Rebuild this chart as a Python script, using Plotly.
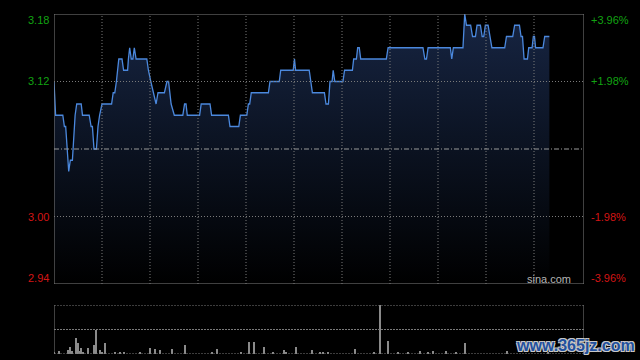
import plotly.graph_objects as go

# ---- Price data (minutes since 09:30, HK session, 330 trading minutes) ----
price_t = [0, 1, 5.5, 6.5, 7.3, 9.2, 10.2, 11.5, 13.2, 14.2, 17, 17.8, 22, 23.2, 24, 25, 26.5,
           27.5, 28.5, 30, 36, 37, 38, 39, 40.5, 42.5, 43.5, 46, 46.5, 47.3, 48.3, 49.3, 50.2,
           51.3, 58, 59, 60.5, 62, 63.8, 65, 69, 70.6, 71.6, 73.2, 75.2, 80.5, 81.6, 82.5,
           83.3, 91, 92, 97.5, 98.5, 109, 110, 115.5, 116.5, 120.5, 121.5, 122.3, 123.3, 134,
           135, 140.8, 141.7, 149.5, 150.3, 151, 159.5, 161.5, 169, 170, 171.5, 172.5, 173.8,
           174.5, 175.5, 180.6, 181.6, 186.5, 187.3, 189, 189.8, 190.8, 191.7, 207.7, 208.8,
           230.6, 231.8, 232.8, 233.8, 247.7, 248.6, 249.6, 255.6, 256.7, 257.8, 260.4, 261.6,
           263.4, 264.4, 266.5, 267.6, 268.6, 269.6, 271.3, 272.3, 273.7, 281.7, 282.8, 286.7,
           287.9, 290.9, 291.9, 292.8, 293.8, 295.9, 296.7, 298.8, 299.6, 300.3, 301, 305.6,
           306.7, 309.6]
price = [3.12, 3.09, 3.09, 3.08, 3.08, 3.04, 3.05, 3.05, 3.09, 3.10, 3.10, 3.09, 3.09, 3.08,
         3.08, 3.06, 3.06, 3.08, 3.09, 3.10, 3.10, 3.11, 3.11, 3.12, 3.14, 3.14, 3.13, 3.13,
         3.14, 3.15, 3.14, 3.14, 3.15, 3.14, 3.14, 3.13, 3.12, 3.11, 3.10, 3.11, 3.11, 3.12,
         3.12, 3.10, 3.09, 3.09, 3.10, 3.10, 3.09, 3.09, 3.10, 3.10, 3.09, 3.09, 3.08, 3.08,
         3.09, 3.09, 3.10, 3.10, 3.11, 3.11, 3.12, 3.12, 3.13, 3.13, 3.14, 3.13, 3.13, 3.11,
         3.11, 3.10, 3.10, 3.12, 3.12, 3.13, 3.12, 3.12, 3.13, 3.13, 3.14, 3.14, 3.15, 3.15,
         3.14, 3.14, 3.15, 3.15, 3.14, 3.14, 3.15, 3.15, 3.14, 3.15, 3.15, 3.18, 3.17, 3.17,
         3.16, 3.16, 3.17, 3.17, 3.16, 3.16, 3.17, 3.17, 3.16, 3.15, 3.15, 3.16, 3.16, 3.17,
         3.17, 3.16, 3.16, 3.14, 3.14, 3.15, 3.15, 3.16, 3.16, 3.15, 3.15, 3.16, 3.16]

# ---- Volume data (thousand shares) ----
vol_t = [0, 3, 9, 10, 11, 14, 15, 16, 17, 18, 21, 25, 26, 29, 30, 32, 38, 41, 44, 54, 60, 63,
         66, 74, 82, 99, 102, 117, 122, 125, 131, 137, 144, 145, 151, 161, 166, 168, 171, 188,
         200, 204, 209, 215, 221, 229, 234, 237, 245, 251, 257, 283, 309]
vol = [6, 14, 18, 30, 12, 66, 44, 14, 26, 8, 26, 38, 100, 18, 8, 44, 10, 10, 10, 10, 26, 22,
       18, 22, 38, 8, 22, 8, 50, 50, 30, 8, 18, 10, 30, 18, 10, 8, 8, 22, 8, 200, 54, 8, 8,
       14, 10, 14, 14, 8, 46, 14, 8]

prev_close = 3.06
y_ticks_left = [3.18, 3.12, 3.00, 2.94]
y_tick_text_left = ["3.18", "3.12", "3.00", "2.94"]
y_tick_text_right = ["+3.96%", "+1.98%", "-1.98%", "-3.96%"]

X_MAX = 331.25
Y_MIN, Y_MAX = 2.94, 3.18
GREEN = "#12a312"
RED = "#d41515"
GRID = "#7a7a7a"
DOT = "1px,2px"

fig = go.Figure()

fig.add_trace(go.Scatter(
    x=price_t, y=price, mode="lines",
    line=dict(color="#4b88dd", width=1.3),
    fill="tozeroy",
    fillgradient=dict(type="vertical", start=Y_MIN, stop=Y_MAX,
                      colorscale=[[0, "#000000"], [0.55, "#0c1424"], [1, "#172543"]]),
    xaxis="x", yaxis="y", hoverinfo="skip", showlegend=False))

fig.add_trace(go.Bar(
    x=vol_t, y=vol, width=0.65, marker=dict(color="#8a8a8a", line=dict(width=0)),
    xaxis="x2", yaxis="y2", hoverinfo="skip", showlegend=False))

shapes = []
# main frame
shapes.append(dict(type="rect", xref="x", yref="y", x0=0, x1=X_MAX, y0=Y_MIN, y1=Y_MAX,
                   line=dict(color="#808080", width=1), layer="above"))
# vertical dotted gridlines every 30 minutes
for k in range(1, 11):
    shapes.append(dict(type="line", xref="x", yref="y", x0=30 * k, x1=30 * k, y0=Y_MIN, y1=Y_MAX,
                       line=dict(color=GRID, width=1, dash=DOT), layer="above"))
# horizontal dotted gridlines
for yv in [3.12, 3.00]:
    shapes.append(dict(type="line", xref="x", yref="y", x0=0, x1=X_MAX, y0=yv, y1=yv,
                       line=dict(color=GRID, width=1, dash=DOT), layer="above"))
# previous close
shapes.append(dict(type="line", xref="x", yref="y", x0=0, x1=X_MAX, y0=prev_close, y1=prev_close,
                   line=dict(color="#9a9a9a", width=1, dash="5px,2px,1px,2px"), layer="above"))
# volume panel lines
for yv in [200, 100, 0]:
    shapes.append(dict(type="line", xref="x2", yref="y2", x0=0, x1=X_MAX, y0=yv, y1=yv,
                       line=dict(color=GRID, width=1, dash="2px,1px"), layer="above"))
for xv in [0, X_MAX]:
    shapes.append(dict(type="line", xref="x2", yref="y2", x0=xv, x1=xv, y0=0, y1=200,
                       line=dict(color="#808080", width=1), layer="above"))

annotations = []
for i, (yv, lt, rt) in enumerate(zip(y_ticks_left, y_tick_text_left, y_tick_text_right)):
    col = GREEN if yv > prev_close else RED
    shift = -6 if i == 0 else (6 if i == len(y_ticks_left) - 1 else 0)
    annotations.append(dict(x=51 / 640, xref="paper", y=yv, yref="y", text=lt, showarrow=False,
                            xanchor="right", yanchor="middle", yshift=shift,
                            font=dict(family="Liberation Sans, Arial", size=11, color=col)))
    annotations.append(dict(x=589 / 640, xref="paper", y=yv, yref="y", text=rt, showarrow=False,
                            xanchor="left", yanchor="middle", yshift=shift,
                            font=dict(family="Liberation Sans, Arial", size=11, color=col)))

annotations.append(dict(x=573 / 640, xref="paper", y=1 - 279 / 360, yref="paper", text="sina.com",
                        showarrow=False, xanchor="right", yanchor="middle",
                        font=dict(family="Liberation Sans, Arial", size=11, color="#b4b4b4")))
annotations.append(dict(x=575 / 640, xref="paper", y=1 - 345 / 360, yref="paper",
                        text="<b>www.365jz.com</b>", showarrow=False, xanchor="center",
                        yanchor="middle",
                        font=dict(family="Liberation Sans, Arial", size=16, color="#22509e",
                                  shadow="-1px -1px 0 #c8c8c8, 1px -1px 0 #c8c8c8, -1px 1px 0 #c8c8c8, 1px 1px 0 #c8c8c8")))

xdom = [54 / 640, 584 / 640]
fig.update_layout(
    width=640, height=360, autosize=False,
    margin=dict(l=0, r=0, t=0, b=0),
    paper_bgcolor="#000000", plot_bgcolor="#000000",
    xaxis=dict(domain=xdom, range=[0, X_MAX], visible=False, fixedrange=True, anchor="y"),
    yaxis=dict(domain=[1 - 284 / 360, 1 - 14 / 360], range=[Y_MIN, Y_MAX], visible=False,
               fixedrange=True, anchor="x"),
    xaxis2=dict(domain=xdom, range=[0, X_MAX], visible=False, fixedrange=True, anchor="y2"),
    yaxis2=dict(domain=[1 - 354 / 360, 1 - 305 / 360], range=[0, 200], visible=False,
                fixedrange=True, anchor="x2"),
    shapes=shapes, annotations=annotations,
    bargap=0,
)

fig.write_html(
    "out.html",
    config={"displayModeBar": False},
    post_script="document.body.style.margin='0';document.body.style.padding='0';"
                "document.body.style.background='#000';"
                "document.documentElement.style.overflow='hidden';",
)
